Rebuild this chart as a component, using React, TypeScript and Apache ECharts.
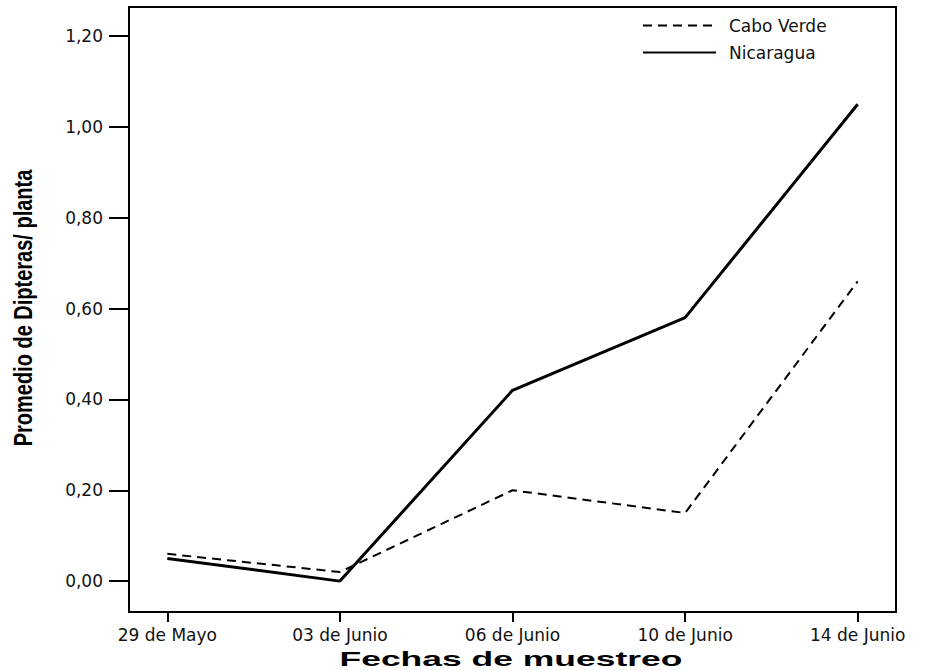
import React, { useEffect, useRef } from "react";
import * as echarts from "echarts";

const dates = ["29 de Mayo", "03 de Junio", "06 de Junio", "10 de Junio", "14 de Junio"];
const caboVerde = [0.06, 0.02, 0.2, 0.15, 0.66];
const nicaragua = [0.05, 0.0, 0.42, 0.58, 1.05];
const yTicks = [0, 0.2, 0.4, 0.6, 0.8, 1.0, 1.2];
const xTicks = [0, 1, 2, 3, 4];
const xTitle = "Fechas de muestreo";
const yTitle = "Promedio de Dipteras/ planta";

const FONT = "'Liberation Sans', Arial, sans-serif";
const TICKFONT = "'DejaVu Sans', sans-serif";

export default function App() {
  const ref = useRef<HTMLDivElement>(null);
  useEffect(() => {
    if (!ref.current) return;
    const chart = echarts.init(ref.current, null, { renderer: "svg" });
    chart.setOption({
      animation: false,
      backgroundColor: "#fff",
      grid: {
        left: 129,
        right: 32,
        top: 7,
        bottom: 58,
        show: true,
        borderColor: "#000",
        borderWidth: 2,
        backgroundColor: "transparent",
      },
      legend: {
        orient: "vertical",
        left: 637,
        top: 12,
        itemWidth: 73,
        itemHeight: 14,
        itemGap: 10,
        itemStyle: { opacity: 0 },
        textStyle: {
          fontFamily: TICKFONT,
          fontSize: 17,
          color: "#111",
          padding: [0, 0, 0, 8],
        },
        data: ["Cabo Verde", "Nicaragua"],
      },
      xAxis: {
        type: "value",
        min: -0.222,
        max: 4.222,
        splitLine: { show: false },
        axisLine: { show: true, onZero: false, lineStyle: { color: "#000", width: 2 } },
        axisTick: {
          show: true,
          customValues: xTicks,
          length: 10,
          lineStyle: { color: "#000", width: 2 },
        },
        axisLabel: {
          customValues: xTicks,
          margin: 14,
          fontFamily: TICKFONT,
          fontSize: 17,
          color: "#111",
          formatter: (v: number) => dates[Math.round(v)] ?? "",
        },
      },
      yAxis: {
        type: "value",
        min: -0.068,
        max: 1.264,
        splitLine: { show: false },
        axisLine: { show: true, onZero: false, lineStyle: { color: "#000", width: 2 } },
        axisTick: {
          show: true,
          customValues: yTicks,
          length: 20,
          lineStyle: { color: "#000", width: 2 },
        },
        axisLabel: {
          customValues: yTicks,
          margin: 26,
          fontFamily: TICKFONT,
          fontSize: 17,
          color: "#111",
          formatter: (v: number) => v.toFixed(2).replace(".", ","),
        },
      },
      graphic: [
        {
          type: "text",
          x: 511,
          y: 659,
          scaleX: 1.69,
          style: {
            text: xTitle,
            font: `bold 21px ${FONT}`,
            fill: "#000",
            align: "center",
            verticalAlign: "middle",
          },
        },
        {
          type: "text",
          x: 23,
          y: 308,
          rotation: Math.PI / 2,
          scaleY: 1.3,
          style: {
            text: yTitle,
            font: `bold 20px ${FONT}`,
            fill: "#000",
            align: "center",
            verticalAlign: "middle",
          },
        },
      ],
      series: [
        {
          name: "Cabo Verde",
          type: "line",
          symbol: "none",
          data: caboVerde.map((v, i) => [i, v]),
          lineStyle: { color: "#000", width: 2, type: [9, 6] },
          itemStyle: { color: "#000" },
        },
        {
          name: "Nicaragua",
          type: "line",
          symbol: "none",
          data: nicaragua.map((v, i) => [i, v]),
          lineStyle: { color: "#000", width: 3, type: "solid" },
          itemStyle: { color: "#000" },
        },
      ],
    });
    return () => chart.dispose();
  }, []);
  return (
    <div
      ref={ref}
      style={{ position: "absolute", left: 0, top: 0, width: 928, height: 670 }}
    />
  );
}
